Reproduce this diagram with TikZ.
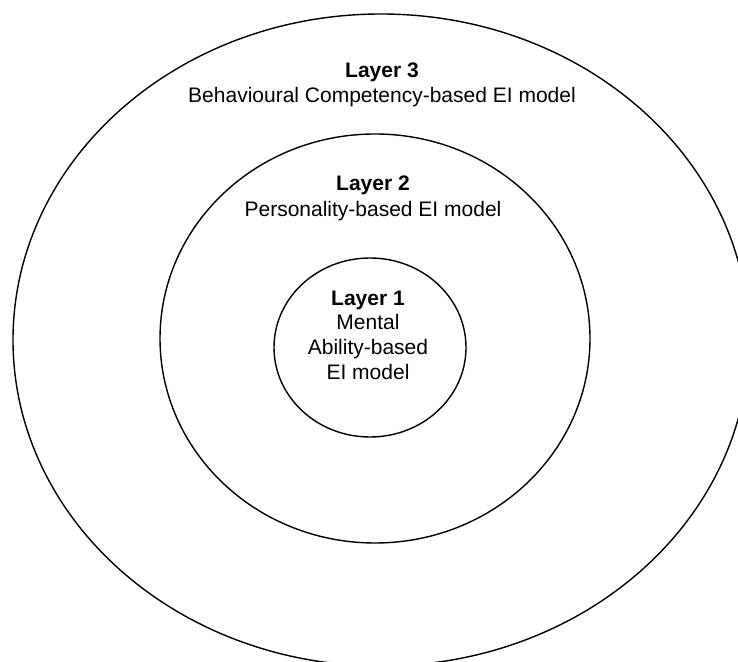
\documentclass[tikz,border=0pt]{standalone}
\usepackage{fontspec}
\setmainfont{Liberation Sans}
\usetikzlibrary{shapes.geometric}
\begin{document}
\begin{tikzpicture}[x=1pt,y=1pt,
  ring/.style={ellipse, draw=black, line width=1.4pt, inner sep=0pt},
  label/.style={align=center, font=\fontsize{21}{25.5}\selectfont, text=black}]
  \useasboundingbox (0,0) rectangle (738,661);
  \clip (0,0) rectangle (738,661);
  % three nested layers
  \node[ring, minimum width=736pt, minimum height=652pt] (outer) at (381,321) {};
  \node[ring, minimum width=430pt, minimum height=409pt] (middle) at (375,322.5) {};
  \node[ring, minimum width=192pt, minimum height=179pt] (inner) at (370,313.5) {};
  % layer captions
  \node[label] (l3) at (382,576) {\textbf{Layer 3}\\Behavioural Competency-based EI model};
  \node[label] (l2) at (373,462.5) {\textbf{Layer 2}\\Personality-based EI model};
  \node[label, font=\fontsize{21}{24.7}\selectfont] (l1) at (368,326) {\textbf{Layer 1}\\Mental\\Ability-based\\EI model};
\end{tikzpicture}
\end{document}
